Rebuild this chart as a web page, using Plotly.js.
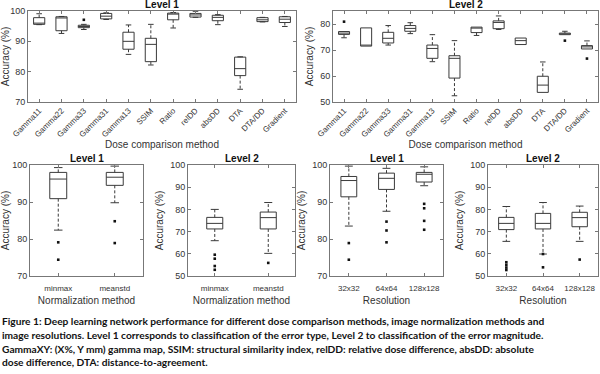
<!DOCTYPE html>
<html>
<head>
<meta charset="utf-8">
<script src="https://cdn.plot.ly/plotly-3.0.1.min.js"></script>
<style>
html,body{margin:0;padding:0;background:#fff;}
#chart{width:600px;height:374px;}
</style>
</head>
<body>
<div id="chart"></div>
<script>
// ---------- DATA ----------
const methods = ["Gamma11","Gamma22","Gamma33","Gamma31","Gamma13","SSIM","Ratio","relDD","absDD","DTA","DTA/DD","Gradient"];

// Dose comparison, Level 1
const doseL1Lo  = [95.5, 92.6, 93.9, 97.2, 85.7, 82.2, 94.4, 97.9, 95.5, 74.2, 96.4, 94.9];
const doseL1Q1  = [95.6, 93.5, 94.5, 97.4, 87.4, 83.3, 97.1, 98.0, 96.8, 78.7, 96.5, 96.2];
const doseL1Med = [96.0, 97.7, 94.9, 98.3, 90.0, 89.0, 99.1, 98.7, 97.9, 81.0, 97.1, 97.3];
const doseL1Q3  = [97.8, 98.1, 95.3, 99.2, 93.0, 91.0, 99.3, 99.2, 98.6, 84.8, 97.8, 98.1];
const doseL1Hi  = [99.1, 98.2, 95.6, 99.4, 95.4, 95.6, 99.5, 99.9, 98.8, 84.9, 97.9, 98.2];
const doseL1OutCat = [3];
const doseL1OutVal = [97.1];

// Dose comparison, Level 2
const doseL2Lo  = [74.7, 71.5, 71.9, 76.3, 65.5, 52.4, 75.6, 77.9, 72.1, 53.7, 75.9, 70.4];
const doseL2Q1  = [76.0, 71.5, 72.7, 77.2, 66.8, 59.2, 76.7, 78.2, 72.1, 53.7, 75.9, 70.4];
const doseL2Med = [76.5, 71.8, 74.5, 78.3, 70.6, 66.8, 78.6, 80.6, 73.6, 56.5, 76.2, 71.2];
const doseL2Q3  = [77.1, 78.5, 76.8, 79.4, 71.9, 67.8, 78.8, 81.2, 74.6, 59.9, 76.5, 71.7];
const doseL2Hi  = [77.1, 78.5, 79.4, 80.5, 75.9, 73.6, 78.8, 83.1, 74.6, 65.4, 77.2, 73.5];
const doseL2OutCat = [1, 11, 12];
const doseL2OutVal = [80.9, 73.6, 66.7];

const normNames = ["minmax","meanstd"];
// Normalization, Level 1
const normL1Lo  = [82.4, 89.8];
const normL1Q1  = [90.9, 94.5];
const normL1Med = [96.2, 96.7];
const normL1Q3  = [98.0, 98.0];
const normL1Hi  = [99.3, 99.7];
const normL1OutCat = [1, 1, 2, 2];
const normL1OutVal = [79.1, 74.4, 84.8, 78.9];
// Normalization, Level 2
const normL2Lo  = [65.9, 60.2];
const normL2Q1  = [71.2, 71.2];
const normL2Med = [73.7, 76.3];
const normL2Q3  = [76.4, 78.8];
const normL2Hi  = [80.0, 83.1];
const normL2OutCat = [1, 1, 1, 1, 2];
const normL2OutVal = [59.6, 57.8, 54.5, 52.8, 55.9];

const resNames = ["32x32","64x64","128x128"];
// Resolution, Level 1
const resL1Lo  = [83.5, 87.5, 94.4];
const resL1Q1  = [91.4, 93.4, 95.4];
const resL1Med = [95.8, 96.4, 97.5];
const resL1Q3  = [96.9, 97.8, 98.0];
const resL1Hi  = [99.7, 99.1, 99.5];
const resL1OutCat = [1, 1, 2, 2, 2, 3, 3, 3, 3];
const resL1OutVal = [78.9, 74.4, 84.7, 82.3, 79.1, 89.5, 88.3, 84.9, 82.5];
// Resolution, Level 2
const resL2Lo  = [65.6, 59.9, 65.6];
const resL2Q1  = [70.9, 71.2, 72.2];
const resL2Med = [73.7, 73.7, 76.3];
const resL2Q3  = [76.4, 78.2, 78.7];
const resL2Hi  = [81.3, 83.1, 81.5];
const resL2OutCat = [1, 1, 1, 1, 2, 2, 3];
const resL2OutVal = [56.2, 55.0, 53.8, 52.7, 59.9, 53.9, 57.4];

const captionLines = [
  "Figure 1: Deep learning network performance for different dose comparison methods, image normalization methods and",
  "image resolutions. Level 1 corresponds to classification of the error type, Level 2 to classification of the error magnitude.",
  "GammaXY: (X%, Y mm) gamma map, SSIM: structural similarity index, relDD: relative dose difference, absDD: absolute",
  "dose difference, DTA: distance-to-agreement."
];

// ---------- BUILD ----------
const FONT = "Liberation Sans, Arial, sans-serif";
const LINE = "#3a3a3a";
const traces = [];

function addPanel(xa, ya, lo, q1, med, q3, hi, outCat, outVal, boxW) {
  const pos = lo.map((_, i) => i + 1);
  traces.push({
    type: "box", xaxis: xa, yaxis: ya, x: pos,
    q1: q1, median: med, q3: q3, lowerfence: q1, upperfence: q3,
    width: boxW, whiskerwidth: 0, boxpoints: false,
    line: {color: LINE, width: 1}, fillcolor: "rgba(255,255,255,0)",
    hoverinfo: "skip", showlegend: false
  });
  // whiskers (dashed)
  const wx = [], wy = [];
  pos.forEach((p, i) => {
    wx.push(p, p, null, p, p, null);
    wy.push(q3[i], hi[i], null, q1[i], lo[i], null);
  });
  traces.push({type: "scatter", mode: "lines", xaxis: xa, yaxis: ya, x: wx, y: wy,
    line: {color: LINE, width: 1, dash: "3px,2px"}, hoverinfo: "skip", showlegend: false});
  // caps
  const cw = boxW / 4;
  const cx = [], cy = [];
  pos.forEach((p, i) => {
    if (hi[i] > q3[i]) { cx.push(p - cw, p + cw, null); cy.push(hi[i], hi[i], null); }
    if (lo[i] < q1[i]) { cx.push(p - cw, p + cw, null); cy.push(lo[i], lo[i], null); }
  });
  traces.push({type: "scatter", mode: "lines", xaxis: xa, yaxis: ya, x: cx, y: cy,
    line: {color: LINE, width: 1}, hoverinfo: "skip", showlegend: false});
  // outliers
  traces.push({type: "scatter", mode: "markers", xaxis: xa, yaxis: ya, x: outCat, y: outVal,
    marker: {color: "#111", size: 2.6, symbol: "square"}, hoverinfo: "skip", showlegend: false});
}

addPanel("x",  "y",  doseL1Lo, doseL1Q1, doseL1Med, doseL1Q3, doseL1Hi, doseL1OutCat, doseL1OutVal, 0.5);
addPanel("x2", "y2", doseL2Lo, doseL2Q1, doseL2Med, doseL2Q3, doseL2Hi, doseL2OutCat, doseL2OutVal, 0.5);
addPanel("x3", "y3", normL1Lo, normL1Q1, normL1Med, normL1Q3, normL1Hi, normL1OutCat, normL1OutVal, 0.3);
addPanel("x4", "y4", normL2Lo, normL2Q1, normL2Med, normL2Q3, normL2Hi, normL2OutCat, normL2OutVal, 0.3);
addPanel("x5", "y5", resL1Lo, resL1Q1, resL1Med, resL1Q3, resL1Hi, resL1OutCat, resL1OutVal, 0.42);
addPanel("x6", "y6", resL2Lo, resL2Q1, resL2Med, resL2Q3, resL2Hi, resL2OutCat, resL2OutVal, 0.42);

const W = 600, H = 374;
const px = v => v / W;
const py = v => 1 - v / H;

function xAxis(domain, names, angle, size, title, standoff, tls) {
  return {
    domain: [px(domain[0]), px(domain[1])],
    range: [0.5, names.length + 0.5], tickvals: names.map((_, i) => i + 1), ticktext: names,
    tickangle: angle, showline: true, mirror: "ticks", linecolor: "#777", linewidth: 1,
    ticks: "inside", ticklen: 3, tickcolor: "#777", showgrid: false, zeroline: false,
    ticklabelstandoff: tls,
    tickfont: {family: FONT, size: size, color: "#333"},
    title: {text: title, font: {family: FONT, size: 10, color: "#333"}, standoff: standoff}
  };
}
function yAxis(domain, range, dtick) {
  return {
    domain: [py(domain[1]), py(domain[0])], range: range, dtick: dtick, tick0: 0,
    showline: true, mirror: "ticks", linecolor: "#777", linewidth: 1,
    ticks: "inside", ticklen: 3, tickcolor: "#777", showgrid: false, zeroline: false,
    tickfont: {family: FONT, size: 9, color: "#333"},
    title: {text: "Accuracy (%)", font: {family: FONT, size: 10, color: "#333"}, standoff: 4}
  };
}

const layout = {
  width: W, height: H, margin: {l: 0, r: 0, t: 0, b: 0},
  paper_bgcolor: "#fff", plot_bgcolor: "#fff", showlegend: false,
  xaxis:  Object.assign(xAxis([28, 296], methods, -45, 8, "Dose comparison method", 2, 0), {anchor: "y"}),
  yaxis:  Object.assign(yAxis([11, 102], [70, 100], 10), {anchor: "x"}),
  xaxis2: Object.assign(xAxis([333, 598], methods, -45, 8, "Dose comparison method", 2, 0), {anchor: "y2"}),
  yaxis2: Object.assign(yAxis([11, 102], [50, 85], 10), {anchor: "x2"}),
  xaxis3: Object.assign(xAxis([30, 143], normNames, 0, 8, "Normalization method", 5, 4), {anchor: "y3"}),
  yaxis3: Object.assign(yAxis([165, 276], [70, 100], 10), {anchor: "x3"}),
  xaxis4: Object.assign(xAxis([188, 295], normNames, 0, 8, "Normalization method", 5, 4), {anchor: "y4"}),
  yaxis4: Object.assign(yAxis([165, 276], [50, 100], 10), {anchor: "x4"}),
  xaxis5: Object.assign(xAxis([330, 443], resNames, 0, 8, "Resolution", 5, 4), {anchor: "y5"}),
  yaxis5: Object.assign(yAxis([165, 276], [70, 100], 10), {anchor: "x5"}),
  xaxis6: Object.assign(xAxis([488, 598], resNames, 0, 8, "Resolution", 5, 4), {anchor: "y6"}),
  yaxis6: Object.assign(yAxis([165, 276], [50, 100], 10), {anchor: "x6"}),
  annotations: []
};

const panelTitles = [
  ["Level 1", 28, 296, 4], ["Level 2", 333, 598, 4],
  ["Level 1", 30, 143, 158], ["Level 2", 188, 295, 158],
  ["Level 1", 330, 443, 158], ["Level 2", 488, 598, 158]
];
panelTitles.forEach(t => layout.annotations.push({
  xref: "paper", yref: "paper", x: px((t[1] + t[2]) / 2), y: py(t[3]),
  xanchor: "center", yanchor: "middle", showarrow: false,
  text: "<b>" + t[0] + "</b>", font: {family: FONT, size: 10, color: "#111"}
}));

const capY = [321, 335, 349, 362];
captionLines.forEach((txt, i) => layout.annotations.push({
  xref: "paper", yref: "paper", x: 0, y: py(capY[i]), xanchor: "left", yanchor: "middle",
  showarrow: false, text: "<b>" + txt + "</b>",
  font: {family: "Lato, sans-serif", size: 10.2, color: "#111"}
}));

Plotly.newPlot("chart", traces, layout, {staticPlot: true, displayModeBar: false});
</script>
</body>
</html>
